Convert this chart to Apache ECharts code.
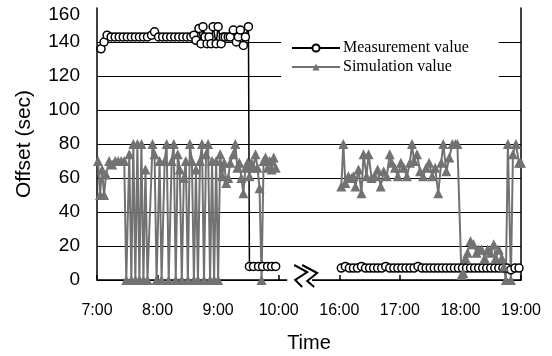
<!DOCTYPE html>
<html><head><meta charset="utf-8">
<script src="https://cdn.jsdelivr.net/npm/echarts@6/dist/echarts.min.js"></script>
<style>html,body{margin:0;padding:0;background:#fff}#c{width:552px;height:356px}</style>
</head><body><div id="c"></div>
<script>
// Axis ticks (compressed time axis: 16:00-19:00 placed right after 10:00)
const xTickValues = [7, 8, 9, 10, 11, 12, 13, 14];
const xTickLabels = ['7:00', '8:00', '9:00', '10:00', '16:00', '17:00', '18:00', '19:00'];

// Measurement value
const measTimesAM = ["7:04","7:07","7:10","7:14","7:18","7:22","7:26","7:30","7:34","7:38","7:42","7:46","7:50","7:54","7:57","8:01","8:05","8:09","8:13","8:17","8:21","8:25","8:29","8:33","8:36","8:38","8:41","8:43","8:45","8:47","8:49","8:51","8:53","8:55","8:58","9:00","9:03","9:05","9:07","9:10","9:12","9:15","9:18","9:20","9:22","9:25","9:27","9:30","9:31","9:35","9:40","9:44","9:49","9:53","9:57"];
const measValuesAM = [136,140,144,143,143,143,143,143,143,143,143,143,143,144,146,143,143,143,143,143,143,143,143,143,144,141,148,139,149,143,139,143,139,149,139,149,139,143,143,143,143,147,140,143,147,138,143,149,8,8,8,8,8,8,8];
const measTimesPM = ["16:02","16:06","16:10","16:14","16:18","16:22","16:26","16:30","16:34","16:38","16:42","16:46","16:50","16:54","16:58","17:02","17:06","17:10","17:14","17:18","17:22","17:26","17:30","17:34","17:38","17:42","17:46","17:50","17:54","17:58","18:02","18:06","18:10","18:14","18:18","18:22","18:26","18:30","18:34","18:38","18:42","18:46","18:50","18:54","18:58"];
const measValuesPM = [7,8,7,7,7,8,7,7,7,7,7,8,7,7,7,7,7,7,7,8,7,7,7,7,7,7,7,7,7,7,7,7,7,7,7,7,7,7,7,7,7,7,6,7,7];

// Simulation value
const simTimesAM = ["7:01","7:03","7:05","7:07","7:09","7:12","7:15","7:18","7:21","7:24","7:27","7:29","7:32","7:34","7:36","7:38","7:40","7:42","7:44","7:46","7:48","7:50","7:55","7:57","7:59","8:02","8:04","8:07","8:09","8:11","8:14","8:16","8:18","8:20","8:22","8:24","8:26","8:28","8:30","8:32","8:34","8:36","8:38","8:40","8:42","8:44","8:46","8:48","8:50","8:52","8:54","8:56","8:58","9:00","9:02","9:04","9:06","9:08","9:10","9:12","9:15","9:17","9:19","9:21","9:23","9:25","9:27","9:29","9:31","9:33","9:35","9:37","9:39","9:41","9:43","9:45","9:47","9:49","9:51","9:53","9:55","9:57"];
const simValuesAM = [70,50,65,50,62,70,68,70,70,70,70,0,74,0,80,0,80,0,80,0,65,0,80,74,0,70,0,70,80,0,70,80,0,74,65,0,60,70,0,80,70,0,65,0,70,80,0,74,80,0,70,0,70,0,74,61,69,57,60,69,74,80,66,69,60,51,66,69,61,69,66,74,66,54,0,70,72,66,70,65,72,66];
const simTimesPM = ["16:02","16:04","16:06","16:09","16:12","16:14","16:16","16:19","16:22","16:24","16:27","16:29","16:32","16:35","16:38","16:41","16:44","16:47","16:50","16:52","16:55","16:58","17:01","17:04","17:07","17:10","17:12","17:14","17:17","17:20","17:23","17:26","17:29","17:32","17:35","17:38","17:41","17:43","17:46","17:49","17:52","17:55","17:57","18:01","18:03","18:05","18:07","18:10","18:13","18:16","18:18","18:21","18:24","18:27","18:30","18:33","18:35","18:38","18:41","18:43","18:45","18:47","18:50","18:52","18:55","18:58","19:00"];
const simValuesPM = [55,80,57,61,60,61,55,65,51,74,61,74,60,61,65,55,64,61,74,69,66,61,69,66,61,69,80,70,74,64,61,66,69,61,66,51,69,80,64,72,80,80,80,3,4,13,16,23,21,16,18,18,13,18,16,21,13,18,13,8,0,80,0,74,80,69,69];

function toAxis(t) {
  const p = t.split(':').map(Number);
  let v = p[0] + p[1] / 60;
  if (p[0] >= 16) v -= 5;
  return v;
}
function pairs(times, vals) { return times.map((t, i) => [toAxis(t), vals[i]]); }
const measData = pairs(measTimesAM, measValuesAM).concat([[10.5, '-']], pairs(measTimesPM, measValuesPM));
const simData = pairs(simTimesAM, simValuesAM).concat([[10.5, '-']], pairs(simTimesPM, simValuesPM));

const sans = "'Liberation Sans', Arial, sans-serif";
const serif = "'Liberation Serif', 'Times New Roman', serif";
const chart = echarts.init(document.getElementById('c'), null, {renderer: 'canvas'});
chart.setOption({
  animation: false,
  backgroundColor: '#fff',
  grid: {left: 97, right: 31, top: 8, bottom: 76, containLabel: false, outerBoundsMode: 'none'},
  legend: {
    orient: 'vertical', left: 281, top: 34, padding: [6, 30, 8, 10],
    backgroundColor: '#fff', z: 10,
    itemWidth: 48, itemHeight: 9, itemGap: 3,
    textStyle: {fontFamily: serif, fontSize: 16, color: '#000', lineHeight: 16, padding: [0, 0, 0, -2]},
    data: ['Measurement value', 'Simulation value']
  },
  xAxis: {
    type: 'value', min: 7, max: 14, interval: 1,
    axisLine: {lineStyle: {color: '#000', width: 1.5}},
    axisTick: {inside: true, length: 5, lineStyle: {color: '#000', width: 1.5}},
    axisLabel: {
      formatter: v => { const i = xTickValues.indexOf(v); return i >= 0 ? xTickLabels[i] : ''; },
      fontFamily: sans, fontSize: 16, color: '#000', margin: 23
    },
    splitLine: {show: false},
    name: 'Time', nameLocation: 'middle', nameGap: 53,
    nameTextStyle: {fontFamily: sans, fontSize: 20, color: '#000'}
  },
  yAxis: [{
    type: 'value', min: 0, max: 160, interval: 20,
    axisLine: {show: true, lineStyle: {color: '#000', width: 1.5}},
    axisTick: {show: false},
    axisLabel: {
      fontFamily: sans, fontSize: 19, color: '#000', margin: 17,
      formatter: v => v === 160 ? '{top|' + v + '}' : String(v),
      rich: {top: {fontFamily: sans, fontSize: 19, color: '#000', padding: [13, 0, 0, 0]}}
    },
    splitLine: {show: true, showMaxLine: false, lineStyle: {color: '#000', width: 1}},
    name: 'Offset (sec)', nameLocation: 'middle', nameGap: 62,
    nameTextStyle: {fontFamily: sans, fontSize: 21, color: '#000'}
  }, {
    type: 'value', min: 0, max: 160, interval: 20, position: 'right',
    axisLine: {show: true, lineStyle: {color: '#000', width: 1.5}},
    axisTick: {show: false}, axisLabel: {show: false}, splitLine: {show: false}
  }],
  series: [{
    name: 'Measurement value', type: 'line', data: measData,
    symbol: 'circle', symbolSize: 8, showAllSymbol: true,
    itemStyle: {color: '#fff', borderColor: '#000', borderWidth: 1.5},
    lineStyle: {color: '#000', width: 1.5}
  }, {
    name: 'Simulation value', type: 'line', data: simData,
    symbol: 'triangle', symbolSize: 10, showAllSymbol: true,
    itemStyle: {color: '#727272'},
    lineStyle: {color: '#727272', width: 2}
  }]
});

// Axis-break decoration on the time axis between 10:00 and 16:00
const bx0 = chart.convertToPixel({xAxisIndex: 0}, 10.14);
const bx1 = chart.convertToPixel({xAxisIndex: 0}, 10.55);
const y0 = chart.convertToPixel({yAxisIndex: 0}, 0);
const zig1 = [[7,-15],[20,-8],[8,0],[15,7]];
const zig2 = [[15,-15],[30,-7],[20,1],[27,7]];
const toPts = z => z.map(p => [bx0 + p[0], y0 + p[1]]);
chart.setOption({graphic: [
  {type: 'rect', z: 100, shape: {x: bx0, y: y0 - 3, width: bx1 - bx0, height: 6}, style: {fill: '#fff'}},
  {type: 'polyline', z: 101, shape: {points: toPts(zig1)}, style: {stroke: '#000', lineWidth: 2, fill: null}},
  {type: 'polyline', z: 101, shape: {points: toPts(zig2)}, style: {stroke: '#000', lineWidth: 2, fill: null}}
]});
</script></body></html>
